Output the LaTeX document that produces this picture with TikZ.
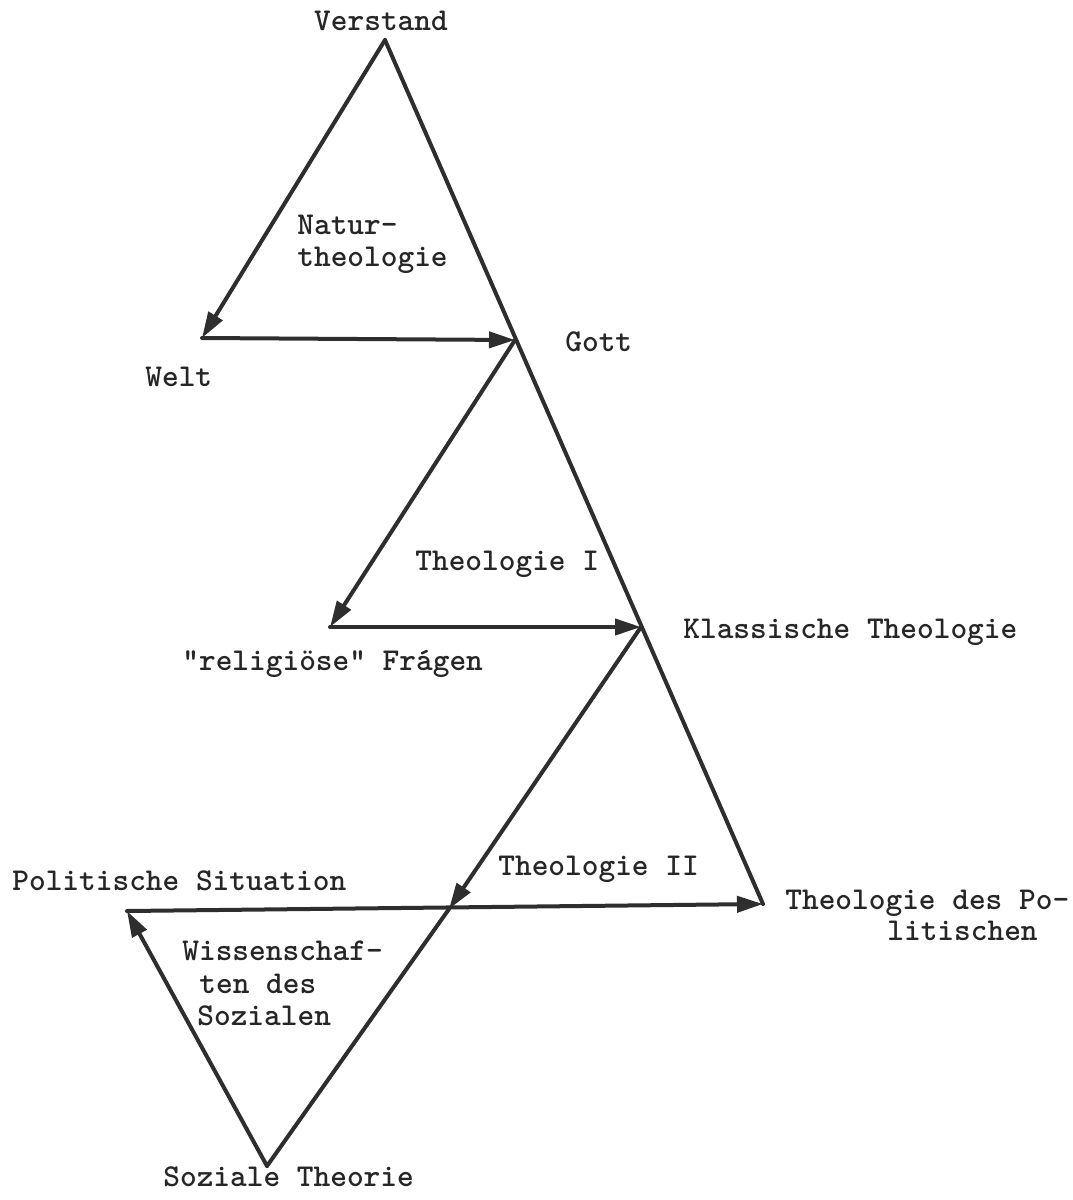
\documentclass[tikz,border=0pt]{standalone}
\usetikzlibrary{arrows.meta}
\begin{document}
\begin{tikzpicture}[x=0.5pt,y=-0.5pt,
  ln/.style={line width=2pt, draw=black!82, line cap=round, line join=round},
  arr/.style={ln, -{Triangle[length=13pt,width=8pt]}},
  lab/.style={font=\ttfamily\bfseries\fontsize{15.9}{16.5}\selectfont, inner sep=0pt, anchor=mid west, yshift=-2pt, text=black!85}]
\fill[white] (0,0) rectangle (1072,1200);
\useasboundingbox (0,0) rectangle (1072,1200);
% vertices
\coordinate (V) at (385,40);
\coordinate (W) at (202,338);
\coordinate (G) at (515,340);
\coordinate (R) at (330,627);
\coordinate (K) at (641,627);
\coordinate (T) at (763,904);
\coordinate (P) at (127,911);
\coordinate (S) at (267,1166);
\coordinate (C) at (449,909);
% connectors
\draw[ln] (V) -- (T);
\draw[arr] (V) -- (W);
\draw[arr] (W) -- (G);
\draw[arr] (G) -- (R);
\draw[arr] (R) -- (K);
\draw[arr] (K) -- (C);
\draw[ln] (C) -- (S);
\draw[arr] (S) -- (P);
\draw[arr] (P) -- (T);
% labels
\node[lab, anchor=mid] (verstand) at (381,22) {Verstand};
\node[lab] (natur1) at (297,226) {Natur-};
\node[lab] (natur2) at (297,258) {theologie};
\node[lab] (welt) at (145,378) {Welt};
\node[lab] (gott) at (565,343) {Gott};
\node[lab] (theo1) at (415,562) {Theologie I};
\node[lab] (klass) at (683,630) {Klassische Theologie};
\node[lab] (relig) at (182,662) {"religiöse" Frágen};
\node[lab] (theo2) at (498,867) {Theologie II};
\node[lab] (polsit) at (12,882) {Politische Situation};
\node[lab] (tdp1) at (785,901) {Theologie des Po-};
\node[lab] (tdp2) at (887,932) {litischen};
\node[lab] (wiss1) at (182,952) {Wissenschaf-};
\node[lab] (wiss2) at (199,985) {ten des};
\node[lab] (wiss3) at (197,1017) {Sozialen};
\node[lab, yshift=2pt] (sozth) at (163,1182) {Soziale Theorie};
\end{tikzpicture}
\end{document}
